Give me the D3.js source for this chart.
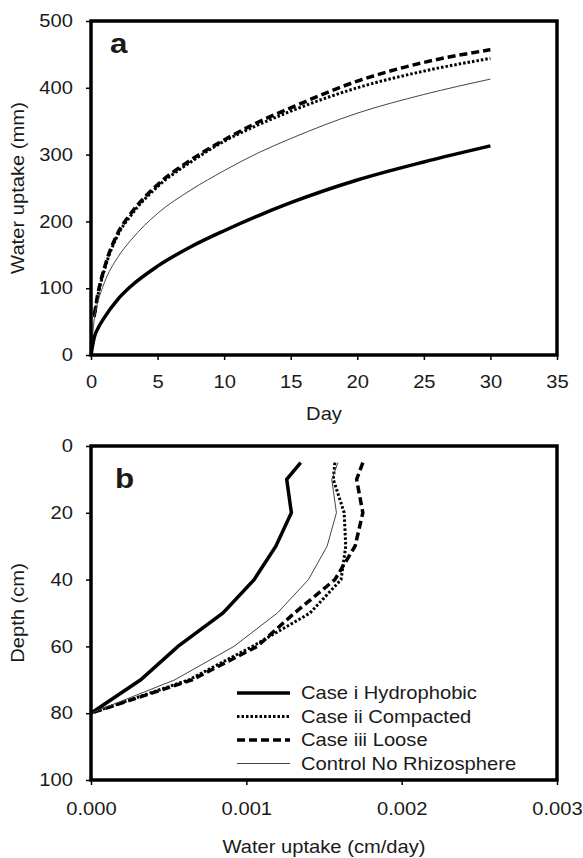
<!DOCTYPE html>
<html>
<head>
<meta charset="utf-8">
<script src="https://cdn.jsdelivr.net/npm/d3@7"></script>
<style>
  body { margin: 0; background: #fff; }
  text { font-family: "Liberation Sans", Arial, sans-serif; fill: #1a1a1a; }
</style>
</head>
<body>
<svg id="chart" width="583" height="858"></svg>
<script>
// panel a: cumulative water uptake over time
const days = [0, 0.25, 0.5, 1, 2, 3, 5, 7.5, 10, 12.5, 15, 20, 25, 30];
const cumHydrophobic = [0, 27, 39, 56, 83, 103, 133, 162, 186, 208, 228, 262, 289, 313];
const cumCompacted   = [null, 57, 87, 127, 179, 209, 252, 289, 320, 344, 365, 400, 425, 444];
const cumLoose       = [null, 60, 90, 130, 182, 212, 255, 292, 322, 348, 370, 410, 438, 457];
const cumControl     = [0, 55, 78, 108, 146, 172, 212, 247, 276, 302, 324, 362, 390, 413];
const dayTicks = [0, 5, 10, 15, 20, 25, 30, 35];
const mmTicks = [0, 100, 200, 300, 400, 500];

// panel b: uptake profile with depth
const depths = [5, 10, 20, 30, 40, 50, 60, 70, 80];
const profHydrophobic = [0.00135, 0.00126, 0.00129, 0.00119, 0.00105, 0.00085, 0.00056, 0.00032, 0];
const profCompacted   = [0.00157, 0.00156, 0.00163, 0.00164, 0.00161, 0.00141, 0.00104, 0.00063, 0];
const profLoose       = [0.00175, 0.00171, 0.00175, 0.00170, 0.00157, 0.00131, 0.00107, 0.00065, 0];
const profControl     = [0.00159, 0.00155, 0.00158, 0.00152, 0.00140, 0.00120, 0.00092, 0.00054, 0];
const rateTicks = [0, 0.001, 0.002, 0.003];
const depthTicks = [0, 20, 40, 60, 80, 100];

const seriesNames = ["Case i Hydrophobic", "Case ii Compacted", "Case iii Loose", "Control No Rhizosphere"];

const styles = [
  { width: 3.5, dash: null, color: "#000" },
  { width: 3, dash: "2.5,2", color: "#000" },
  { width: 3.5, dash: "8,4", color: "#000" },
  { width: 1, dash: null, color: "#444" }
];

const svg = d3.select("#chart");
const sx = 1.12;   // glyphs in the figure are a little wider than Arial
const fs = 18;

const left = 91, right = 557;

function frame(g, top, bottom) {
  g.append("rect")
    .attr("x", left).attr("y", top)
    .attr("width", right - left).attr("height", bottom - top)
    .attr("fill", "none").attr("stroke", "#000").attr("stroke-width", 3.5);
}

function styleAxis(g, horizontal) {
  g.select(".domain").remove();
  g.selectAll(".tick line").attr("stroke", "#000").attr("stroke-width", 1.5);
  g.selectAll(".tick text")
    .attr("font-size", fs)
    .attr("fill", "#1a1a1a")
    .attr("font-family", "Liberation Sans, Arial, sans-serif")
    .attr("transform", `scale(${sx},1)`);
  if (!horizontal) {
    g.selectAll(".tick text").attr("x", function () { return +d3.select(this).attr("x") / sx; });
  }
}

function hText(x, y, str, opts = {}) {
  svg.append("text")
    .attr("transform", `translate(${x},${y}) scale(${sx},1)`)
    .attr("text-anchor", opts.anchor || "middle")
    .attr("font-size", opts.size || fs)
    .attr("font-weight", opts.weight || null)
    .attr("dy", opts.dy || null)
    .text(str);
}

function vText(x, y, str) {
  svg.append("text")
    .attr("transform", `translate(${x},${y}) rotate(-90) scale(${sx},1)`)
    .attr("text-anchor", "middle")
    .attr("font-size", fs)
    .text(str);
}

function drawLine(g, pts, st, curve) {
  g.append("path")
    .datum(pts)
    .attr("fill", "none")
    .attr("stroke", st.color)
    .attr("stroke-width", st.width)
    .attr("stroke-dasharray", st.dash)
    .attr("d", curve);
}

// ---------- panel a ----------
const topA = 21, bottomA = 355;
const xA = d3.scaleLinear().domain([0, 35]).range([left, right]);
const yA = d3.scaleLinear().domain([0, 500]).range([bottomA, topA]);

const gA = svg.append("g");
const lineA = d3.line()
  .defined(d => d[1] != null)
  .x(d => xA(d[0]))
  .y(d => yA(d[1]))
  .curve(d3.curveMonotoneX);

[cumHydrophobic, cumCompacted, cumLoose, cumControl].forEach((vals, i) => {
  drawLine(gA, days.map((d, j) => [d, vals[j]]), styles[i], lineA);
});

gA.append("g")
  .attr("transform", `translate(0,${bottomA})`)
  .call(d3.axisBottom(xA).tickValues(dayTicks).tickSize(5).tickPadding(15).tickFormat(d3.format("d")))
  .call(g => styleAxis(g, true));
gA.append("g")
  .attr("transform", `translate(${left},0)`)
  .call(d3.axisLeft(yA).tickValues(mmTicks).tickSize(5).tickPadding(13).tickFormat(d3.format("d")))
  .call(g => styleAxis(g, false));
frame(gA, topA, bottomA);

hText(324, 420, "Day");
vText(24, (topA + bottomA) / 2, "Water uptake (mm)");
hText(110, 53, "a", { anchor: "start", size: 28, weight: "bold" });

// ---------- panel b ----------
const topB = 446, bottomB = 780;
const xB = d3.scaleLinear().domain([0, 0.003]).range([left, right]);
const yB = d3.scaleLinear().domain([0, 100]).range([topB, bottomB]);

const gB = svg.append("g");
const lineB = d3.line()
  .x(d => xB(d[0]))
  .y(d => yB(d[1]));

[profHydrophobic, profCompacted, profLoose, profControl].forEach((vals, i) => {
  drawLine(gB, depths.map((d, j) => [vals[j], d]), styles[i], lineB);
});

gB.append("g")
  .attr("transform", `translate(0,${bottomB})`)
  .call(d3.axisBottom(xB).tickValues(rateTicks).tickSize(5).tickPadding(17).tickFormat(d3.format(".3f")))
  .call(g => styleAxis(g, true));
gB.append("g")
  .attr("transform", `translate(${left},0)`)
  .call(d3.axisLeft(yB).tickValues(depthTicks).tickSize(5).tickPadding(13).tickFormat(d3.format("d")))
  .call(g => styleAxis(g, false));
frame(gB, topB, bottomB);

hText(324, 853, "Water uptake (cm/day)");
vText(24, (topB + bottomB) / 2, "Depth (cm)");
hText(115, 488, "b", { anchor: "start", size: 28, weight: "bold" });

// legend
const legend = gB.append("g");
seriesNames.forEach((name, i) => {
  const y = 693 + i * 23.5;
  legend.append("line")
    .attr("x1", 237).attr("x2", 290)
    .attr("y1", y).attr("y2", y)
    .attr("stroke", styles[i].color)
    .attr("stroke-width", styles[i].width)
    .attr("stroke-dasharray", styles[i].dash);
  hText(301, y, name, { anchor: "start", dy: "0.35em" });
});
</script>
</body>
</html>
